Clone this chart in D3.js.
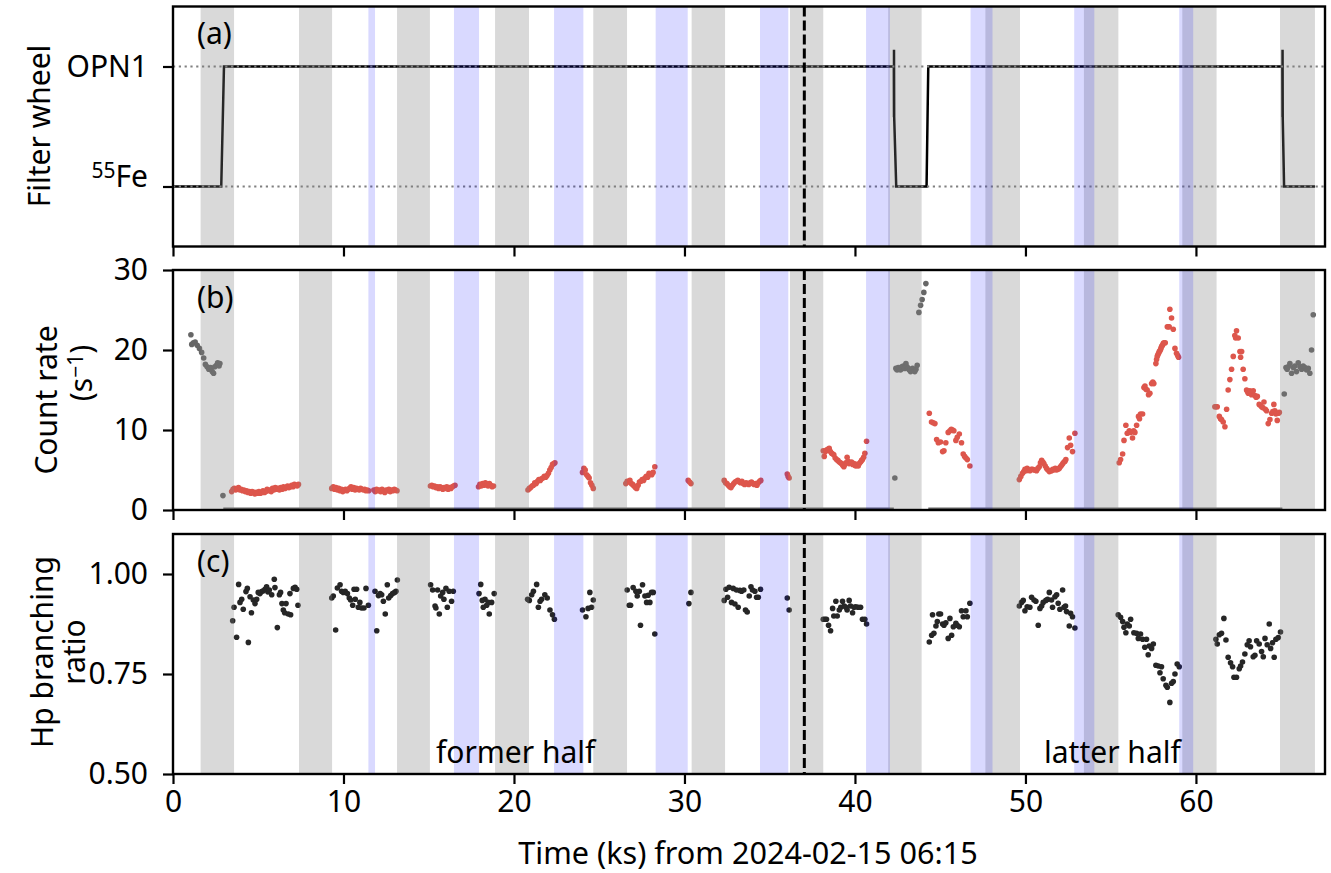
<!DOCTYPE html>
<html>
<head>
<meta charset="utf-8">
<script src="https://cdn.jsdelivr.net/npm/d3@7"></script>
<style>
  body { margin: 0; background: #fff; }
  svg text { font-family: "Noto Sans", sans-serif; fill: #000; }
</style>
</head>
<body>
<svg id="chart" width="1331" height="873"></svg>
<script>
// ---------- data (time in ks from 2024-02-15 06:15) ----------
const xTicks = [0, 10, 20, 30, 40, 50, 60];
const rateTicks = [0, 10, 20, 30];
const ratioTicks = [0.5, 0.75, 1.0];
const filterNames = ["55Fe", "OPN1"];          // wheel positions 0 and 1

// Earth-occultation (gray) and SAA (blue) intervals
const grayBands = [[1.62, 3.58], [7.39, 9.33], [13.14, 15.07], [18.89, 20.88], [24.65, 26.63],
  [30.42, 32.38], [36.19, 38.14], [41.95, 43.91], [47.65, 49.68], [53.43, 55.45],
  [59.2, 61.21], [64.93, 66.98]];
const blueBands = [[11.46, 11.85], [16.48, 17.95], [22.35, 24.07], [28.31, 30.19],
  [34.43, 36.09], [40.65, 42.05], [46.78, 48.07], [52.86, 54.04], [59.02, 59.84]];

const splitTime = 37.03;   // boundary between former and latter half

// filter wheel position vs time
const filterSteps = [[0, 0], [2.83, 0], [2.99, 1], [42.28, 1], [42.29, 0.58], [42.29, 1.14],
  [42.30, 0.58], [42.42, 0], [44.2, 0], [44.3, 1], [65.07, 1], [65.08, 0.58], [65.08, 1.14],
  [65.09, 0.58], [65.17, 0], [66.98, 0]];

// count rate with the 55Fe source in view (s^-1)
const rateFe = [[1.05, 21.9], [1.1, 20.7], [1.2, 20.9], [1.3, 21.0], [1.42, 20.6], [1.55, 20.2],
  [1.68, 19.7], [1.8, 19.0], [1.9, 18.2], [2.0, 17.9], [2.1, 17.6], [2.2, 17.8], [2.3, 17.3],
  [2.38, 17.1], [2.45, 17.9], [2.55, 18.1], [2.62, 18.4], [2.7, 18.0], [2.75, 18.3],
  [2.93, 1.8],
  [42.34, 4.0], [42.4, 17.7], [42.47, 17.5], [42.54, 17.8], [42.61, 17.6], [42.67, 17.5],
  [42.75, 17.9], [42.83, 18.0], [42.91, 17.7], [42.99, 18.3], [43.05, 17.9], [43.12, 17.7],
  [43.19, 17.5], [43.26, 17.3], [43.32, 17.6], [43.38, 17.7], [43.45, 17.4], [43.51, 17.3],
  [43.58, 17.6], [43.65, 18.1], [43.75, 24.7], [43.85, 25.6], [43.94, 26.3], [44.04, 27.2],
  [44.16, 28.3],
  [65.18, 14.5], [65.28, 17.8], [65.35, 17.6], [65.41, 17.9], [65.51, 18.3], [65.61, 17.1],
  [65.71, 17.8], [65.8, 18.0], [65.9, 17.3], [66.0, 18.4], [66.1, 17.9], [66.2, 17.6],
  [66.29, 18.0], [66.39, 17.8], [66.49, 17.5], [66.59, 17.7], [66.68, 17.1], [66.78, 20.0],
  [66.88, 24.4]];
// spans where the 55Fe-position rate is zero (wheel at OPN1)
const rateFeZero = [[2.95, 42.28], [44.3, 65.07]];

// count rate through OPN1 (s^-1)
const rateOpn = [
  [3.44, 2.3], [3.52, 2.6], [3.6, 2.7], [3.68, 2.5], [3.76, 2.6], [3.84, 2.8], [3.92, 2.5],
  [4.0, 2.6], [4.08, 2.4], [4.16, 2.5], [4.24, 2.3], [4.32, 2.4], [4.4, 2.2], [4.48, 2.3],
  [4.56, 2.1], [4.64, 2.3], [4.72, 2.2], [4.8, 2.0], [4.88, 2.2], [4.96, 2.1], [5.04, 2.3],
  [5.12, 2.1], [5.2, 2.2], [5.28, 2.4], [5.36, 2.2], [5.44, 2.3], [5.52, 2.6], [5.6, 2.4],
  [5.68, 2.5], [5.76, 2.3], [5.84, 2.7], [5.92, 2.5], [6.0, 2.8], [6.08, 2.6], [6.16, 2.7],
  [6.24, 2.5], [6.32, 2.8], [6.4, 2.6], [6.48, 2.9], [6.56, 2.7], [6.64, 2.8], [6.72, 3.0],
  [6.8, 2.8], [6.88, 2.9], [6.96, 3.1], [7.04, 2.9], [7.12, 3.2], [7.2, 3.1], [7.28, 3.0],
  [7.36, 3.2],
  [9.31, 2.7], [9.4, 2.9], [9.48, 2.6], [9.56, 2.8], [9.64, 2.5], [9.72, 2.7], [9.8, 2.4],
  [9.88, 2.6], [9.96, 2.3], [10.04, 2.5], [10.12, 2.6], [10.2, 2.4], [10.28, 2.6], [10.36, 2.7],
  [10.44, 2.9], [10.52, 2.6], [10.6, 2.8], [10.68, 2.5], [10.76, 2.7], [10.84, 2.6], [10.92, 2.5],
  [11.0, 2.7], [11.08, 2.6], [11.16, 2.5], [11.24, 2.6], [11.32, 2.4], [11.4, 2.5], [11.48, 2.4],
  [11.78, 2.5], [11.86, 2.3], [11.94, 2.6], [12.02, 2.4], [12.1, 2.5], [12.18, 2.3], [12.26, 2.6],
  [12.34, 2.4], [12.42, 2.2], [12.5, 2.5], [12.58, 2.4], [12.66, 2.6], [12.74, 2.3], [12.82, 2.5],
  [12.9, 2.4], [12.98, 2.6], [13.06, 2.5], [13.14, 2.4],
  [15.1, 3.0], [15.18, 3.1], [15.26, 2.9], [15.34, 3.0], [15.42, 2.8], [15.5, 2.9], [15.58, 2.7],
  [15.66, 2.9], [15.74, 2.8], [15.82, 2.6], [15.9, 2.8], [15.98, 2.7], [16.06, 2.9], [16.14, 2.6],
  [16.22, 2.8], [16.3, 2.7], [16.38, 2.9], [16.46, 3.0], [16.54, 3.1],
  [17.92, 2.9], [18.0, 3.2], [18.08, 3.0], [18.16, 3.3], [18.24, 3.1], [18.32, 3.4], [18.4, 3.2],
  [18.48, 3.0], [18.56, 3.3], [18.64, 3.1], [18.72, 2.9], [18.8, 3.0],
  [20.82, 2.5], [20.9, 2.7], [20.98, 2.8], [21.06, 3.0], [21.14, 3.1], [21.22, 3.4], [21.3, 3.3],
  [21.38, 3.6], [21.46, 3.8], [21.54, 3.7], [21.62, 3.9], [21.7, 4.0], [21.78, 4.2], [21.86, 4.1],
  [21.94, 4.3], [22.02, 4.6], [22.1, 5.0], [22.18, 5.3], [22.26, 5.7], [22.34, 5.8], [22.4, 5.9],
  [24.02, 4.7], [24.1, 5.2], [24.18, 5.0], [24.26, 4.4], [24.34, 4.2], [24.41, 4.0], [24.49, 3.4],
  [24.57, 3.1], [24.65, 2.7],
  [26.56, 3.3], [26.64, 3.6], [26.72, 3.5], [26.8, 3.7], [26.88, 3.3], [26.96, 3.2], [27.04, 3.0],
  [27.12, 2.8], [27.2, 2.7], [27.28, 3.1], [27.36, 3.5], [27.44, 3.6], [27.52, 3.8], [27.6, 3.7],
  [27.68, 4.0], [27.76, 4.2], [27.84, 4.1], [27.92, 4.6], [28.0, 4.5], [28.08, 4.4], [28.16, 4.7],
  [28.26, 5.4],
  [30.22, 3.7], [30.3, 3.5], [30.38, 3.3],
  [32.33, 3.7], [32.41, 3.4], [32.49, 3.3], [32.57, 3.1], [32.65, 2.9], [32.73, 2.8], [32.81, 3.1],
  [32.89, 3.3], [32.97, 3.5], [33.05, 3.6], [33.13, 3.7], [33.21, 3.5], [33.29, 3.4], [33.37, 3.6],
  [33.45, 3.3], [33.53, 3.2], [33.61, 3.4], [33.69, 3.3], [33.77, 3.2], [33.85, 3.4], [33.93, 3.5],
  [34.01, 3.3], [34.09, 3.2], [34.17, 3.3], [34.25, 3.1], [34.33, 3.4], [34.41, 3.6], [34.48, 3.7],
  [36.03, 4.5], [36.08, 4.2], [36.14, 4.0],
  [38.14, 7.4], [38.2, 6.7], [38.27, 7.3], [38.33, 7.5], [38.41, 7.6], [38.49, 7.7], [38.56, 7.3],
  [38.63, 7.1], [38.7, 7.0], [38.76, 6.9], [38.84, 6.5], [38.92, 6.3], [39.0, 6.2], [39.08, 6.0],
  [39.15, 5.9], [39.21, 5.8], [39.28, 5.6], [39.35, 5.4], [39.41, 5.7], [39.47, 5.9], [39.54, 6.6],
  [39.6, 6.1], [39.66, 5.8], [39.73, 5.9], [39.8, 6.0], [39.87, 5.7], [39.94, 5.8], [40.0, 5.6],
  [40.05, 5.5], [40.12, 5.7], [40.19, 5.5], [40.26, 5.8], [40.33, 6.0], [40.39, 6.2], [40.44, 6.3],
  [40.51, 6.6], [40.58, 7.1], [40.68, 8.6],
  [44.36, 12.1], [44.49, 11.0], [44.59, 10.9], [44.69, 10.8], [44.79, 8.8], [44.89, 8.4],
  [45.02, 8.5], [45.14, 7.3], [45.22, 7.4], [45.33, 8.4], [45.47, 9.7], [45.57, 9.9], [45.65, 10.1],
  [45.73, 10.0], [45.8, 9.9], [45.92, 8.7], [46.0, 9.1], [46.12, 9.5], [46.25, 8.4], [46.35, 7.0],
  [46.43, 6.7], [46.51, 6.5], [46.59, 6.3], [46.74, 5.5],
  [49.64, 3.8], [49.73, 4.2], [49.83, 4.6], [49.9, 4.8], [49.97, 5.1], [50.04, 4.9], [50.1, 5.2],
  [50.18, 5.0], [50.26, 4.9], [50.34, 5.1], [50.42, 5.1], [50.49, 5.0], [50.55, 5.0], [50.65, 4.9],
  [50.73, 5.2], [50.81, 5.4], [50.88, 5.9], [50.95, 6.2], [51.02, 6.0], [51.08, 5.8], [51.16, 5.5],
  [51.24, 5.2], [51.32, 5.0], [51.4, 4.8], [51.47, 4.9], [51.53, 4.9], [51.6, 5.1], [51.67, 5.0],
  [51.75, 5.2], [51.83, 5.0], [51.9, 5.1], [51.98, 5.2], [52.05, 5.4], [52.12, 5.6], [52.19, 5.8],
  [52.26, 6.0], [52.32, 6.1], [52.37, 6.3], [52.47, 7.8], [52.57, 9.0], [52.65, 8.1], [52.76, 7.3],
  [52.9, 9.6],
  [55.5, 5.9], [55.58, 6.3], [55.7, 7.0], [55.78, 8.7], [55.89, 10.6], [55.97, 9.6], [56.09, 9.9],
  [56.17, 9.7], [56.28, 9.0], [56.35, 9.9], [56.42, 9.7], [56.52, 10.6], [56.63, 11.7],
  [56.69, 11.4], [56.75, 12.0], [56.87, 12.0], [56.95, 15.3], [57.01, 15.5], [57.07, 15.1],
  [57.14, 15.0], [57.22, 14.4], [57.3, 14.6], [57.4, 15.8], [57.47, 16.0], [57.53, 15.8],
  [57.65, 18.3], [57.69, 18.8], [57.73, 19.2], [57.77, 19.4], [57.81, 19.6], [57.85, 19.8],
  [57.89, 19.9], [57.93, 20.1], [57.96, 20.3], [58.0, 20.5], [58.04, 20.6], [58.08, 20.8],
  [58.12, 20.9], [58.2, 20.9], [58.32, 22.9], [58.38, 22.9], [58.43, 22.9], [58.47, 25.1],
  [58.57, 24.0], [58.67, 22.6], [58.77, 20.2], [58.86, 19.6], [58.93, 19.3], [58.98, 19.1],
  [61.11, 12.9], [61.18, 12.9], [61.25, 12.9], [61.37, 11.7], [61.44, 11.4], [61.5, 11.3],
  [61.6, 11.0], [61.7, 10.4], [61.8, 12.6], [61.89, 15.0], [61.99, 16.3], [62.09, 17.6],
  [62.19, 19.2], [62.28, 21.8], [62.33, 21.5], [62.38, 22.4], [62.48, 21.5], [62.58, 19.8],
  [62.62, 19.1], [62.68, 19.8], [62.77, 17.6], [62.87, 16.4], [62.97, 15.0], [63.02, 14.8],
  [63.07, 14.6], [63.16, 14.9], [63.26, 14.4], [63.36, 14.9], [63.46, 14.3], [63.53, 14.1],
  [63.6, 14.2], [63.71, 13.2], [63.78, 13.1], [63.85, 12.9], [63.92, 12.8], [63.99, 13.5],
  [64.07, 12.6], [64.14, 12.4], [64.24, 10.8], [64.34, 11.3], [64.44, 12.1], [64.51, 12.3],
  [64.57, 13.2], [64.63, 12.4], [64.69, 12.0], [64.77, 11.2], [64.83, 12.1], [64.89, 12.2]];

// Hp branching ratio
const branching = [
  [3.5, 0.883], [3.58, 0.917], [3.73, 0.842], [3.85, 0.974], [3.93, 0.929], [4.03, 0.937],
  [4.12, 0.912], [4.28, 0.956], [4.36, 0.964], [4.42, 0.829], [4.52, 0.943], [4.6, 0.903],
  [4.71, 0.935], [4.81, 0.926], [4.91, 0.937], [5.0, 0.954], [5.1, 0.951], [5.2, 0.956],
  [5.3, 0.958], [5.4, 0.962], [5.49, 0.968], [5.57, 0.955], [5.65, 0.96], [5.79, 0.948],
  [5.94, 0.987], [5.98, 0.966], [6.12, 0.866], [6.24, 0.948], [6.31, 0.954], [6.39, 0.926],
  [6.47, 0.91], [6.55, 0.903], [6.63, 0.926], [6.76, 0.9], [6.86, 0.951], [6.9, 0.898],
  [7.06, 0.964], [7.16, 0.967], [7.26, 0.962], [7.33, 0.922],
  [9.31, 0.94], [9.4, 0.945], [9.54, 0.86], [9.64, 0.965], [9.8, 0.973], [9.89, 0.957],
  [9.99, 0.954], [10.1, 0.957], [10.23, 0.951], [10.34, 0.94], [10.42, 0.935], [10.54, 0.922],
  [10.62, 0.962], [10.69, 0.937], [10.77, 0.962], [10.87, 0.917], [10.96, 0.929], [11.06, 0.915],
  [11.2, 0.915], [11.32, 0.964], [11.46, 0.922],
  [11.85, 0.957], [11.95, 0.858], [12.05, 0.946], [12.15, 0.951], [12.24, 0.948], [12.34, 0.932],
  [12.45, 0.9], [12.57, 0.973], [12.65, 0.94], [12.77, 0.946], [12.88, 0.951], [13.0, 0.954],
  [13.08, 0.957], [13.16, 0.985],
  [15.11, 0.973], [15.23, 0.96], [15.37, 0.92], [15.42, 0.915], [15.52, 0.96], [15.62, 0.9],
  [15.7, 0.945], [15.82, 0.954], [15.89, 0.937], [16.01, 0.964], [16.09, 0.917], [16.2, 0.957],
  [16.34, 0.932], [16.44, 0.957],
  [17.95, 0.951], [18.05, 0.974], [18.14, 0.934], [18.2, 0.917], [18.3, 0.937], [18.4, 0.922],
  [18.49, 0.929], [18.55, 0.9], [18.69, 0.929], [18.84, 0.951],
  [20.8, 0.937], [20.9, 0.934], [21.04, 0.948], [21.14, 0.957], [21.33, 0.974], [21.43, 0.917],
  [21.53, 0.932], [21.62, 0.937], [21.81, 0.948], [21.95, 0.94], [22.11, 0.91], [22.26, 0.898],
  [22.37, 0.887],
  [24.02, 0.91], [24.22, 0.893], [24.35, 0.914], [24.45, 0.954], [24.55, 0.917], [24.65, 0.935],
  [26.64, 0.96], [26.76, 0.922], [26.84, 0.922], [26.99, 0.966], [27.15, 0.957], [27.23, 0.945],
  [27.35, 0.957], [27.42, 0.872], [27.54, 0.973], [27.68, 0.945], [27.78, 0.929], [27.87, 0.947],
  [27.97, 0.929], [28.07, 0.954], [28.17, 0.954], [28.26, 0.85],
  [30.26, 0.926], [30.38, 0.954],
  [32.33, 0.934], [32.43, 0.962], [32.53, 0.942], [32.62, 0.967], [32.76, 0.929], [32.86, 0.964],
  [32.96, 0.925], [33.05, 0.96], [33.15, 0.917], [33.25, 0.959], [33.35, 0.957], [33.48, 0.96],
  [33.58, 0.91], [33.68, 0.905], [33.8, 0.945], [33.9, 0.968], [33.99, 0.96], [34.13, 0.957],
  [34.23, 0.942], [34.33, 0.942], [34.46, 0.962],
  [36.03, 0.94], [36.14, 0.91],
  [38.14, 0.887], [38.24, 0.887], [38.33, 0.887], [38.45, 0.872], [38.57, 0.858], [38.69, 0.914],
  [38.76, 0.895], [38.88, 0.932], [38.96, 0.895], [39.08, 0.91], [39.17, 0.917], [39.27, 0.932],
  [39.37, 0.92], [39.47, 0.917], [39.54, 0.91], [39.66, 0.934], [39.74, 0.92], [39.86, 0.903],
  [39.94, 0.917], [40.05, 0.918], [40.19, 0.917], [40.33, 0.917], [40.44, 0.887], [40.58, 0.887],
  [40.68, 0.875],
  [44.36, 0.83], [44.5, 0.847], [44.55, 0.898], [44.63, 0.852], [44.75, 0.87], [44.83, 0.881],
  [44.92, 0.9], [45.02, 0.9], [45.14, 0.875], [45.22, 0.872], [45.33, 0.878], [45.47, 0.839],
  [45.57, 0.889], [45.67, 0.847], [45.77, 0.868], [45.92, 0.877], [46.0, 0.872], [46.12, 0.868],
  [46.25, 0.908], [46.35, 0.893], [46.51, 0.908], [46.59, 0.893], [46.74, 0.927],
  [49.64, 0.92], [49.77, 0.929], [49.87, 0.934], [49.97, 0.908], [50.1, 0.918], [50.26, 0.917],
  [50.36, 0.942], [50.5, 0.935], [50.61, 0.932], [50.75, 0.872], [50.85, 0.914], [50.95, 0.92],
  [51.04, 0.929], [51.2, 0.934], [51.3, 0.937], [51.4, 0.954], [51.53, 0.935], [51.59, 0.917],
  [51.73, 0.943], [51.83, 0.948], [51.92, 0.927], [52.02, 0.912], [52.18, 0.96], [52.26, 0.917],
  [52.35, 0.92], [52.41, 0.906], [52.57, 0.87], [52.65, 0.902], [52.76, 0.893], [52.9, 0.865],
  [55.44, 0.898], [55.58, 0.892], [55.7, 0.881], [55.78, 0.867], [55.89, 0.853], [55.97, 0.875],
  [56.09, 0.87], [56.17, 0.887], [56.36, 0.853], [56.52, 0.852], [56.62, 0.839], [56.75, 0.85],
  [56.87, 0.837], [57.0, 0.817], [57.1, 0.837], [57.2, 0.798], [57.26, 0.82], [57.4, 0.814],
  [57.5, 0.825], [57.65, 0.772], [57.79, 0.77], [57.89, 0.753], [57.98, 0.768], [58.08, 0.738],
  [58.24, 0.722], [58.32, 0.717], [58.47, 0.679], [58.57, 0.727], [58.67, 0.731], [58.77, 0.75],
  [58.9, 0.775], [59.02, 0.768],
  [61.17, 0.837], [61.25, 0.825], [61.37, 0.848], [61.5, 0.852], [61.64, 0.889], [61.76, 0.835],
  [61.89, 0.792], [62.03, 0.778], [62.15, 0.768], [62.23, 0.742], [62.38, 0.742], [62.54, 0.763],
  [62.62, 0.77], [62.73, 0.78], [62.87, 0.8], [63.01, 0.823], [63.12, 0.833], [63.2, 0.818],
  [63.36, 0.793], [63.46, 0.797], [63.56, 0.833], [63.71, 0.825], [63.85, 0.806], [63.95, 0.793],
  [64.05, 0.839], [64.18, 0.823], [64.3, 0.875], [64.38, 0.814], [64.49, 0.828], [64.59, 0.792],
  [64.69, 0.837], [64.83, 0.841], [64.96, 0.855]];

// ---------- layout ----------
const svg = d3.select("#chart");
const plotLeft = 173, plotRight = 1325;
const panelH = 240;
const panelTops = [6.5, 270, 534];
const FONT = 30;

const x = d3.scaleLinear().domain([0, 67.57]).range([plotLeft, plotRight]);

const yFilter = d3.scaleLinear().domain([-0.5, 1.5]).range([panelTops[0] + panelH, panelTops[0]]);
const yRate = d3.scaleLinear().domain([0, 30]).range([panelTops[1] + panelH, panelTops[1]]);
const yRatio = d3.scaleLinear().domain([0.5, 1.1]).range([panelTops[2] + panelH, panelTops[2]]);

const defs = svg.append("defs");
panelTops.forEach((top, i) => {
  defs.append("clipPath").attr("id", "clip" + i)
    .append("rect").attr("x", plotLeft).attr("y", top).attr("width", plotRight - plotLeft).attr("height", panelH);
});

function panelGroup(i) {
  return svg.append("g").attr("clip-path", `url(#clip${i})`);
}

function drawBands(g, i) {
  const top = panelTops[i];
  g.selectAll(null).data(grayBands).join("rect")
    .attr("x", d => x(d[0])).attr("width", d => x(d[1]) - x(d[0]))
    .attr("y", top).attr("height", panelH)
    .attr("fill", "rgb(128,128,128)").attr("fill-opacity", 0.3);
  g.selectAll(null).data(blueBands).join("rect")
    .attr("x", d => x(d[0])).attr("width", d => x(d[1]) - x(d[0]))
    .attr("y", top).attr("height", panelH)
    .attr("fill", "rgb(0,0,255)").attr("fill-opacity", 0.15);
}

function drawSplit(g, i) {
  g.append("line")
    .attr("x1", x(splitTime)).attr("x2", x(splitTime))
    .attr("y1", panelTops[i]).attr("y2", panelTops[i] + panelH)
    .attr("stroke", "#000").attr("stroke-width", 3).attr("stroke-dasharray", "10,4");
}

function drawFrame(i) {
  svg.append("rect")
    .attr("x", plotLeft).attr("y", panelTops[i])
    .attr("width", plotRight - plotLeft).attr("height", panelH)
    .attr("fill", "none").attr("stroke", "#000").attr("stroke-width", 2.4);
}

function styleAxis(ax) {
  ax.select(".domain").remove();
  ax.selectAll(".tick line").attr("stroke", "#000").attr("stroke-width", 2.2);
  ax.selectAll(".tick text").attr("font-size", FONT).attr("font-family", "Noto Sans").attr("fill", "#000");
}

function xAxis(i, labels) {
  const ax = svg.append("g").attr("transform", `translate(0,${panelTops[i] + panelH})`)
    .call(d3.axisBottom(x).tickValues(xTicks).tickSize(10).tickPadding(7)
      .tickFormat(labels ? d3.format("d") : ""));
  styleAxis(ax);
}

function panelLabel(i, txt) {
  svg.append("text").attr("x", plotLeft + 24).attr("y", panelTops[i] + 37.5)
    .attr("font-size", FONT).text(txt);
}

// ---------- panel (a): filter wheel ----------
{
  const g = panelGroup(0);
  g.append("path").datum(filterSteps)
    .attr("d", d3.line().x(d => x(d[0])).y(d => yFilter(d[1])))
    .attr("fill", "none").attr("stroke", "#000").attr("stroke-width", 2.5)
    .attr("stroke-linejoin", "miter");
  g.selectAll(null).data([0, 1]).join("line")
    .attr("x1", plotLeft).attr("x2", plotRight)
    .attr("y1", d => yFilter(d)).attr("y2", d => yFilter(d))
    .attr("stroke", "#808080").attr("stroke-width", 2.2).attr("stroke-dasharray", "2.2,3.6");
  drawBands(g, 0);
  drawSplit(g, 0);
  drawFrame(0);
  const ax = svg.append("g").attr("transform", `translate(${plotLeft},0)`)
    .call(d3.axisLeft(yFilter).tickValues([0, 1]).tickSize(10).tickPadding(15).tickFormat(""));
  styleAxis(ax);
  ax.selectAll(".tick text").each(function (d) {
    const t = d3.select(this);
    const name = filterNames[d];
    const m = name.match(/^(\d+)(.*)$/);
    if (m) {
      t.append("tspan").attr("font-size", FONT * 0.7).attr("dy", "-0.45em").text(m[1]);
      t.append("tspan").attr("dy", "0.31em").text(m[2]);
    } else {
      t.text(name);
    }
  });
  xAxis(0, false);
  panelLabel(0, "(a)");
}

// ---------- panel (b): count rate ----------
{
  const g = panelGroup(1);
  g.selectAll(null).data(rateFeZero).join("line")
    .attr("x1", d => x(d[0])).attr("x2", d => x(d[1]))
    .attr("y1", yRate(0)).attr("y2", yRate(0))
    .attr("stroke", "#666").attr("stroke-width", 5);
  g.selectAll(null).data(rateFe).join("circle")
    .attr("cx", d => x(d[0])).attr("cy", d => yRate(d[1])).attr("r", 2.8)
    .attr("fill", "#666");
  g.selectAll(null).data(rateOpn).join("circle")
    .attr("cx", d => x(d[0])).attr("cy", d => yRate(d[1])).attr("r", 2.8)
    .attr("fill", "rgb(221,86,76)");
  drawBands(g, 1);
  drawSplit(g, 1);
  drawFrame(1);
  const ax = svg.append("g").attr("transform", `translate(${plotLeft},0)`)
    .call(d3.axisLeft(yRate).tickValues(rateTicks).tickSize(10).tickPadding(15).tickFormat(d3.format("d")));
  styleAxis(ax);
  xAxis(1, false);
  panelLabel(1, "(b)");
}

// ---------- panel (c): branching ratio ----------
{
  const g = panelGroup(2);
  g.selectAll(null).data(branching).join("circle")
    .attr("cx", d => x(d[0])).attr("cy", d => yRatio(d[1])).attr("r", 2.8)
    .attr("fill", "#262626");
  drawBands(g, 2);
  drawSplit(g, 2);
  drawFrame(2);
  const ax = svg.append("g").attr("transform", `translate(${plotLeft},0)`)
    .call(d3.axisLeft(yRatio).tickValues(ratioTicks).tickSize(10).tickPadding(15).tickFormat(d3.format(".2f")));
  styleAxis(ax);
  xAxis(2, true);
  panelLabel(2, "(c)");
  svg.append("text").attr("x", x(20.1)).attr("y", 763).attr("text-anchor", "middle")
    .attr("font-size", FONT).text("former half");
  svg.append("text").attr("x", x(55.1)).attr("y", 763).attr("text-anchor", "middle")
    .attr("font-size", FONT).text("latter half");
}

// ---------- axis titles ----------
function vLabel(cx, cy, txt) {
  return svg.append("text").attr("transform", `translate(${cx},${cy}) rotate(-90)`)
    .attr("text-anchor", "middle").attr("font-size", FONT).text(txt);
}
vLabel(50, 126, "Filter wheel");
vLabel(57, 400, "Count rate");
{
  const t = svg.append("text").attr("transform", `translate(92,373) rotate(-90)`)
    .attr("text-anchor", "middle").attr("font-size", FONT);
  t.append("tspan").text("(s");
  t.append("tspan").attr("font-size", FONT * 0.7).attr("dy", "-0.45em").text("\u22121");
  t.append("tspan").attr("dy", "0.31em").text(")");
}
vLabel(53, 652, "Hp branching");
vLabel(85, 652, "ratio");

svg.append("text").attr("x", 748).attr("y", 864).attr("text-anchor", "middle")
  .attr("font-size", FONT * 1.02).text("Time (ks) from 2024-02-15 06:15");
</script>
</body>
</html>
